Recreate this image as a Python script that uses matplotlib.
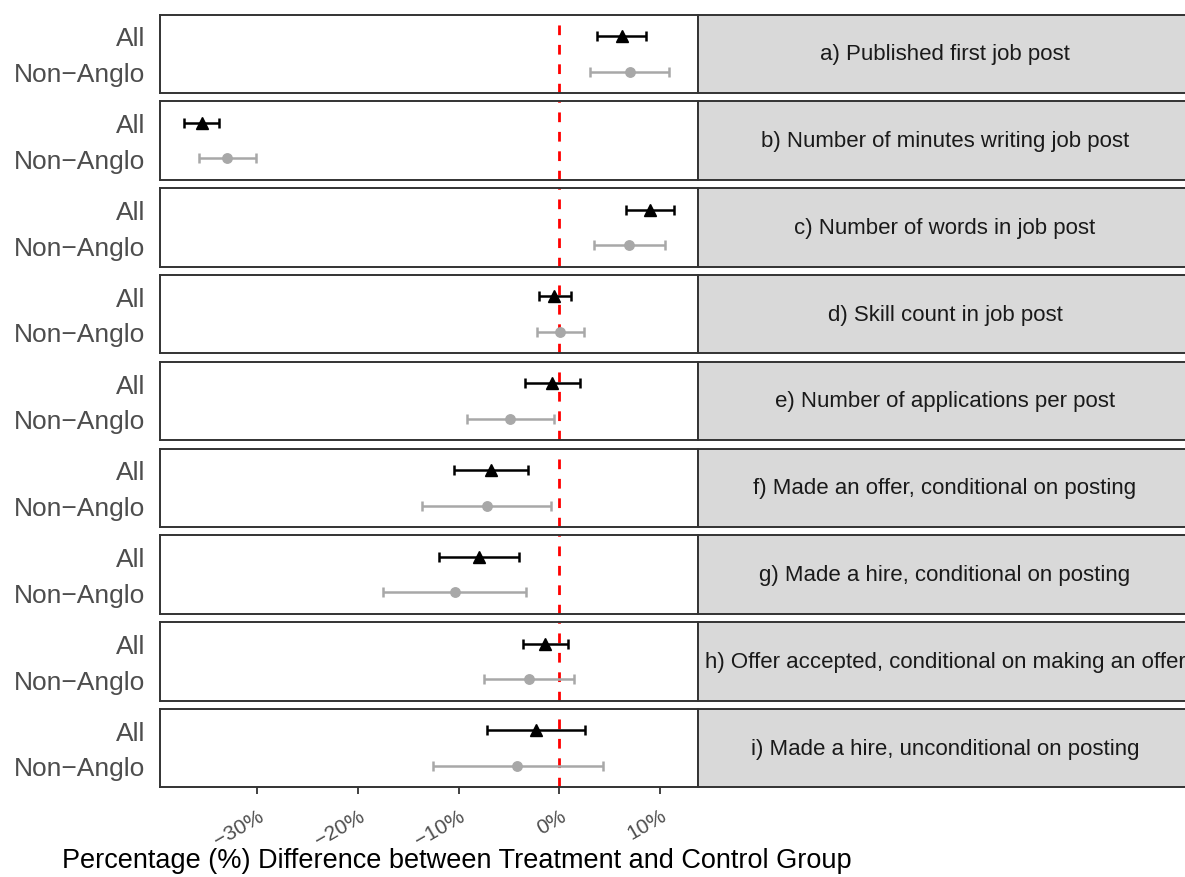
import matplotlib
matplotlib.use("Agg")
import matplotlib.pyplot as plt

plt.rcParams['font.family'] = ['Liberation Sans', 'DejaVu Sans']

panels = [
    "a) Published first job post",
    "b) Number of minutes writing job post",
    "c) Number of words in job post",
    "d) Skill count in job post",
    "e) Number of applications per post",
    "f) Made an offer, conditional on posting",
    "g) Made a hire, conditional on posting",
    "h) Offer accepted, conditional on making an offer",
    "i) Made a hire, unconditional on posting",
]
groups = ["All", "Non\u2212Anglo"]

all_est = [6.2, -35.5, 9.0, -0.5, -0.7, -6.8, -8.0, -1.4, -2.3]
all_lo = [3.7, -37.3, 6.6, -2.0, -3.4, -10.5, -12.0, -3.6, -7.2]
all_hi = [8.6, -33.8, 11.4, 1.1, 2.0, -3.1, -4.0, 0.8, 2.5]

na_est = [7.0, -33.0, 6.9, 0.05, -4.9, -7.2, -10.4, -3.0, -4.2]
na_lo = [3.0, -35.8, 3.4, -2.2, -9.2, -13.6, -17.5, -7.5, -12.6]
na_hi = [10.9, -30.1, 10.5, 2.4, -0.5, -0.8, -3.3, 1.4, 4.3]

xticks = [-30, -20, -10, 0, 10]
xticklabels = ["\u221230%", "\u221220%", "\u221210%", "0%", "10%"]

W, H = 1185, 878
fig = plt.figure(figsize=(W / 100, H / 100), dpi=100)

left, right, strip_right = 159.5, 698, 1192
top0, ph, step = 15.5, 78.5, 86.8
border = "#333333"

for i, name in enumerate(panels):
    top = top0 + i * step
    ax = fig.add_axes([left / W, 1 - (top + ph) / H, (right - left) / W, ph / H])
    ax.set_xlim(-39.7, 13.75)
    ax.set_ylim(1.6, -0.6)
    ax.axvline(0, color="red", lw=2, ls=(0, (3.5, 3.5)), zorder=1)
    ax.errorbar([all_est[i]], [0],
                xerr=[[all_est[i] - all_lo[i]], [all_hi[i] - all_est[i]]],
                fmt="^", color="black", ms=9, lw=1.8, capsize=3.3, capthick=1.8, zorder=3)
    ax.errorbar([na_est[i]], [1],
                xerr=[[na_est[i] - na_lo[i]], [na_hi[i] - na_est[i]]],
                fmt="o", color="#A8A8A8", ms=6.8, lw=1.8, capsize=3.3, capthick=1.8, zorder=2)
    ax.set_yticks([0, 1])
    ax.set_yticklabels(groups, fontsize=19, color="#4D4D4D")
    ax.tick_params(axis="y", length=0, pad=10)
    for s in ax.spines.values():
        s.set_color(border)
        s.set_linewidth(1.4)
    if i == len(panels) - 1:
        ax.set_xticks(xticks)
        ax.set_xticklabels(xticklabels, rotation=30, ha="right", rotation_mode="anchor",
                           fontsize=15, color="#4D4D4D")
        ax.tick_params(axis="x", length=5, width=1.3, color=border, pad=8)
    else:
        ax.set_xticks([])

    sax = fig.add_axes([right / W, 1 - (top + ph) / H, (strip_right - right) / W, ph / H])
    sax.set_xlim(0, 1)
    sax.set_ylim(0, 1)
    sax.set_facecolor("#D9D9D9")
    sax.set_xticks([])
    sax.set_yticks([])
    for s in sax.spines.values():
        s.set_color(border)
        s.set_linewidth(1.4)
    sax.text(0.5, 0.5, name, ha="center", va="center", fontsize=16, color="#1A1A1A")

fig.text(62 / W, 1 - 868 / H, "Percentage (%) Difference between Treatment and Control Group",
         ha="left", va="baseline", fontsize=19.5, color="black")

fig.savefig("out.png", dpi=100)
